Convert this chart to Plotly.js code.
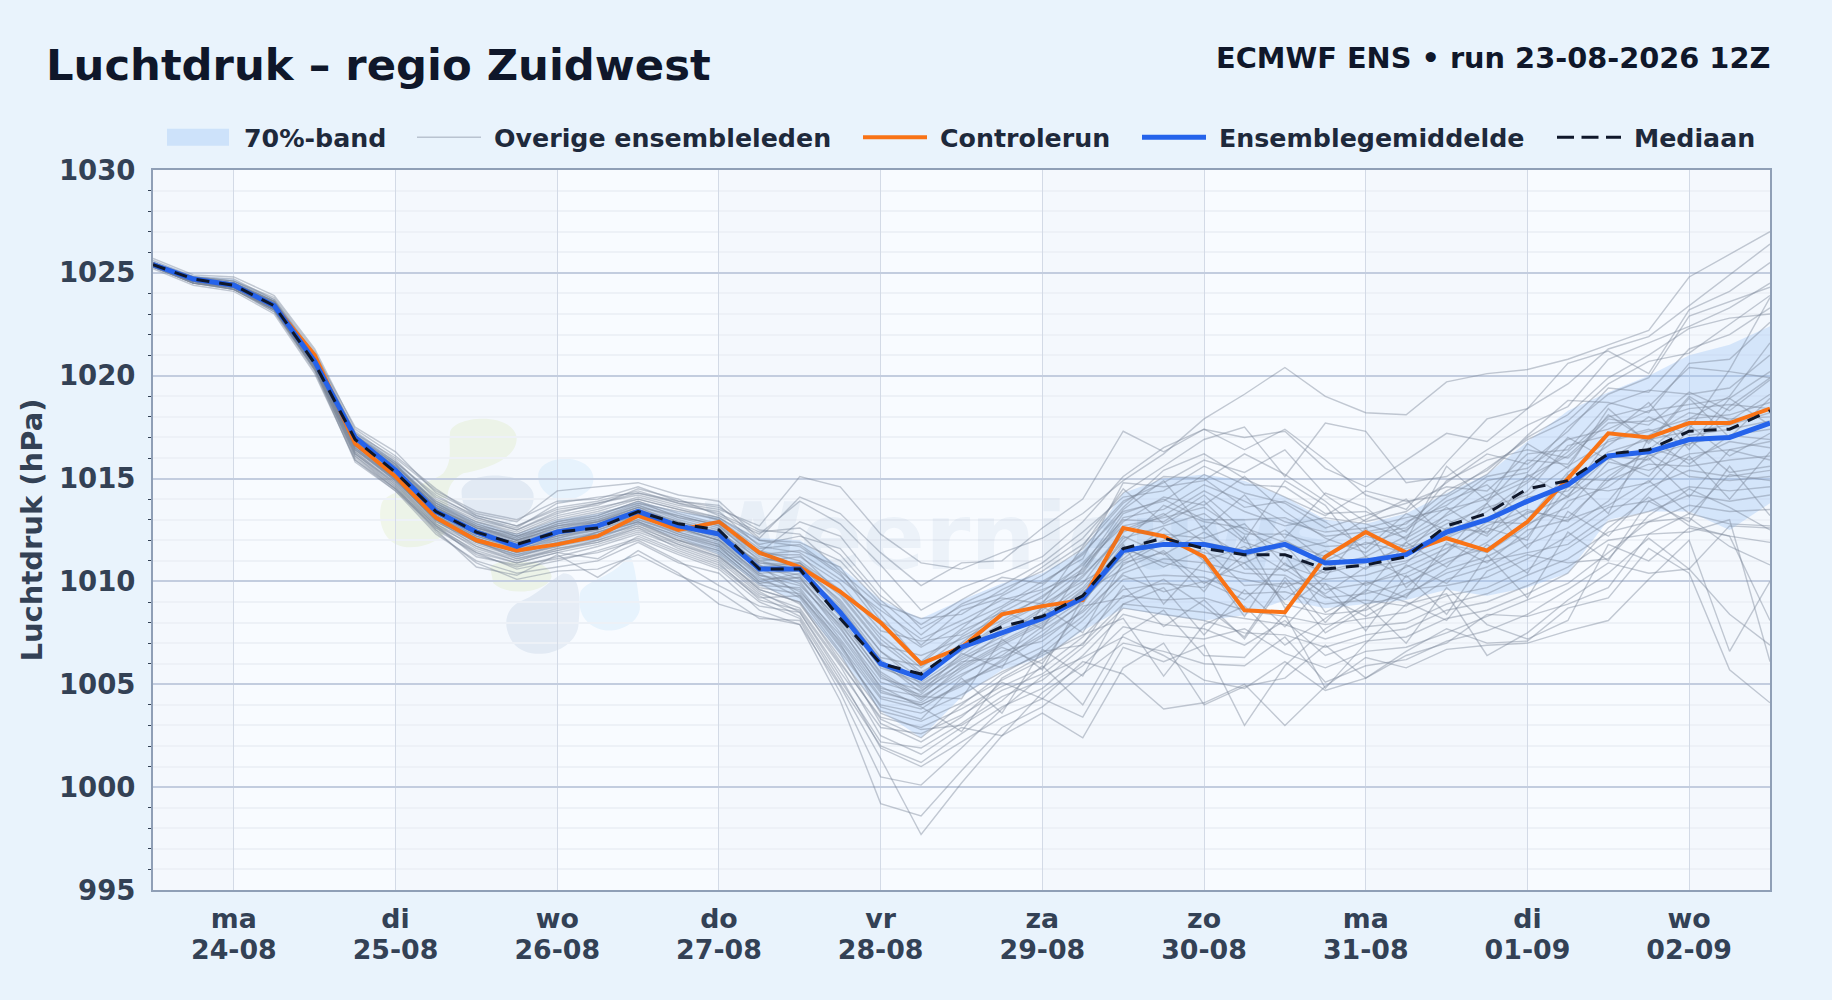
<!DOCTYPE html>
<html><head><meta charset="utf-8">
<script src="https://cdn.plot.ly/plotly-3.0.1.min.js"></script>
<style>html,body{margin:0;padding:0;background:#e9f3fc}</style></head>
<body><div id="chart" style="width:1832px;height:1000px"></div>
<script>
const times = ["2026-08-23 12:00","2026-08-23 18:00","2026-08-24 00:00","2026-08-24 06:00","2026-08-24 12:00","2026-08-24 18:00","2026-08-25 00:00","2026-08-25 06:00","2026-08-25 12:00","2026-08-25 18:00","2026-08-26 00:00","2026-08-26 06:00","2026-08-26 12:00","2026-08-26 18:00","2026-08-27 00:00","2026-08-27 06:00","2026-08-27 12:00","2026-08-27 18:00","2026-08-28 00:00","2026-08-28 06:00","2026-08-28 12:00","2026-08-28 18:00","2026-08-29 00:00","2026-08-29 06:00","2026-08-29 12:00","2026-08-29 18:00","2026-08-30 00:00","2026-08-30 06:00","2026-08-30 12:00","2026-08-30 18:00","2026-08-31 00:00","2026-08-31 06:00","2026-08-31 12:00","2026-08-31 18:00","2026-09-01 00:00","2026-09-01 06:00","2026-09-01 12:00","2026-09-01 18:00","2026-09-02 00:00","2026-09-02 06:00","2026-09-02 12:00"];
const dayTicks = ["2026-08-24","2026-08-25","2026-08-26","2026-08-27","2026-08-28","2026-08-29","2026-08-30","2026-08-31","2026-09-01","2026-09-02"];
const dayLabels = ["ma<br>24-08","di<br>25-08","wo<br>26-08","do<br>27-08","vr<br>28-08","za<br>29-08","zo<br>30-08","ma<br>31-08","di<br>01-09","wo<br>02-09"];
const shadedDays = [["2026-08-23 12:00","2026-08-24"],["2026-08-25","2026-08-26"],["2026-08-27","2026-08-28"],["2026-08-29","2026-08-30"],["2026-08-31","2026-09-01"],["2026-09-02","2026-09-02 12:00"]];
const mean = [1025.4,1024.7,1024.4,1023.4,1020.7,1017.0,1015.4,1013.4,1012.4,1011.7,1012.4,1012.7,1013.4,1012.7,1012.3,1010.6,1010.6,1008.5,1006.0,1005.3,1006.8,1007.5,1008.2,1009.2,1011.5,1011.8,1011.8,1011.4,1011.8,1010.9,1011.0,1011.3,1012.4,1013.0,1013.9,1014.7,1016.1,1016.3,1016.9,1017.0,1017.7];
const control = [1025.4,1024.7,1024.4,1023.4,1021.0,1016.7,1015.1,1013.1,1012.0,1011.5,1011.8,1012.2,1013.2,1012.5,1012.9,1011.4,1010.7,1009.5,1008.0,1006.0,1006.8,1008.4,1008.8,1009.1,1012.6,1012.2,1011.2,1008.6,1008.5,1011.2,1012.4,1011.4,1012.1,1011.5,1012.9,1015.0,1017.2,1017.0,1017.7,1017.7,1018.4];
const median = [1025.4,1024.7,1024.4,1023.4,1020.6,1016.9,1015.3,1013.4,1012.4,1011.8,1012.4,1012.6,1013.4,1012.8,1012.5,1010.6,1010.6,1008.2,1006.0,1005.5,1006.9,1007.8,1008.3,1009.3,1011.6,1012.1,1011.6,1011.3,1011.3,1010.6,1010.8,1011.2,1012.7,1013.3,1014.5,1014.9,1016.2,1016.4,1017.3,1017.4,1018.3];
const bandUpper = [1025.6,1024.9,1024.7,1023.7,1021.1,1017.3,1015.8,1013.9,1012.9,1012.3,1013.0,1013.3,1013.9,1013.4,1013.1,1012.1,1012.0,1010.7,1009.1,1008.2,1009.1,1009.9,1010.4,1011.5,1014.3,1015.0,1015.2,1014.9,1014.1,1013.0,1012.8,1013.3,1014.3,1015.2,1016.8,1018.3,1019.2,1020.0,1021.0,1021.5,1022.4];
const bandLower = [1025.2,1024.5,1024.2,1023.1,1020.3,1016.4,1014.8,1012.9,1011.9,1011.2,1011.7,1012.0,1012.8,1012.1,1011.3,1009.8,1009.0,1006.4,1003.7,1002.4,1004.4,1005.7,1006.3,1007.6,1008.7,1008.35,1008.1,1008.35,1009.1,1008.7,1008.9,1009.1,1009.6,1009.3,1009.7,1010.4,1013.0,1013.4,1013.4,1012.5,1013.8];
const members = [
[1025.5,1024.7,1024.5,1023.6,1020.9,1017.3,1015.9,1014.0,1013.1,1012.6,1013.8,1014.1,1014.3,1013.8,1013.5,1012.7,1015.1,1014.6,1012.3,1010.9,1010.6,1011.4,1012.1,1013.3,1014.9,1016.2,1017.9,1019.1,1020.4,1019.0,1018.2,1018.1,1019.7,1020.1,1020.3,1020.8,1021.5,1022.2,1024.8,1025.9,1027.0],
[1025.4,1024.8,1024.6,1023.7,1021.1,1017.5,1016.3,1014.3,1013.3,1012.9,1014.4,1014.6,1014.8,1014.2,1013.9,1012.1,1014.1,1013.3,1011.4,1009.8,1010.9,1011.0,1012.6,1014.0,1017.3,1016.3,1017.4,1017.0,1017.3,1015.5,1014.6,1015.9,1017.2,1016.8,1018.4,1019.6,1021.3,1021.9,1023.4,1024.9,1026.4],
[1025.5,1024.7,1024.4,1023.5,1020.7,1017.1,1015.8,1014.2,1013.1,1012.5,1013.4,1013.7,1014.5,1014.0,1013.2,1012.3,1013.9,1012.8,1010.8,1008.6,1009.7,1010.4,1011.2,1012.9,1015.1,1016.5,1017.4,1016.4,1017.4,1015.9,1014.2,1013.5,1015.8,1017.9,1018.4,1020.6,1021.2,1020.1,1023.2,1024.1,1025.5],
[1025.3,1024.6,1024.3,1023.3,1020.5,1016.9,1015.5,1013.7,1012.8,1012.2,1012.9,1013.3,1013.8,1013.4,1013.0,1011.4,1012.9,1012.2,1009.7,1007.7,1008.8,1009.4,1010.7,1012.1,1014.3,1015.6,1016.9,1017.5,1015.1,1017.7,1017.3,1014.8,1015.1,1016.4,1017.6,1018.5,1020.8,1021.6,1022.4,1023.3,1024.5],
[1025.4,1024.6,1024.4,1023.4,1020.8,1017.0,1015.6,1013.9,1012.9,1012.3,1013.1,1013.5,1014.1,1013.6,1013.1,1011.8,1012.2,1011.6,1009.3,1007.9,1009.1,1010.2,1009.9,1011.3,1013.6,1015.4,1016.2,1015.0,1014.1,1013.2,1014.4,1013.9,1014.2,1015.5,1016.9,1017.8,1019.6,1020.7,1021.1,1022.5,1023.9],
[1025.5,1024.8,1024.6,1023.8,1021.2,1017.2,1016.0,1014.4,1013.4,1013.0,1013.9,1014.0,1014.6,1013.9,1013.7,1012.0,1011.9,1011.0,1008.9,1008.2,1008.4,1009.6,1010.5,1011.8,1013.9,1014.8,1015.9,1015.3,1016.4,1014.2,1012.9,1013.4,1014.8,1016.2,1015.7,1017.3,1019.4,1019.2,1021.3,1022.0,1023.3],
[1025.4,1024.7,1024.5,1023.5,1020.9,1016.8,1015.4,1013.6,1012.6,1012.1,1012.8,1013.2,1013.9,1013.1,1012.8,1011.3,1011.5,1010.7,1008.1,1006.8,1007.9,1008.8,1010.0,1011.1,1014.8,1014.6,1014.9,1016.2,1015.2,1013.9,1012.3,1012.6,1014.1,1015.2,1017.1,1018.8,1018.7,1018.2,1020.6,1020.8,1022.6],
[1025.3,1024.6,1024.3,1023.4,1020.6,1016.7,1015.2,1013.5,1012.7,1012.0,1012.6,1012.9,1013.6,1013.2,1012.7,1011.0,1011.2,1009.9,1007.6,1007.1,1007.4,1008.7,1009.8,1011.4,1013.4,1013.9,1015.2,1014.3,1013.8,1012.6,1013.2,1013.8,1014.6,1014.4,1016.2,1016.4,1018.6,1019.3,1019.1,1019.4,1021.0],
[1025.4,1024.7,1024.4,1023.3,1020.7,1016.9,1015.3,1013.3,1012.3,1011.9,1012.5,1012.8,1013.5,1012.9,1012.4,1011.1,1010.9,1009.3,1006.9,1006.4,1007.2,1008.1,1009.3,1010.6,1012.9,1014.1,1013.7,1015.1,1013.4,1012.1,1011.4,1012.9,1013.7,1015.1,1015.5,1016.9,1017.4,1018.3,1018.6,1018.9,1020.2],
[1025.5,1024.6,1024.5,1023.6,1020.6,1016.6,1015.1,1013.2,1012.2,1011.6,1012.3,1012.6,1013.3,1012.7,1012.1,1010.9,1010.8,1008.9,1006.3,1005.9,1006.9,1007.4,1008.6,1010.2,1012.4,1013.2,1014.4,1013.4,1012.7,1013.1,1012.8,1012.1,1013.2,1014.2,1015.1,1016.1,1017.9,1017.6,1019.2,1018.3,1019.8],
[1025.3,1024.5,1024.2,1023.2,1020.4,1016.4,1014.9,1013.0,1012.0,1011.4,1012.0,1012.4,1013.0,1012.4,1011.9,1010.4,1010.5,1008.4,1005.8,1005.1,1006.4,1007.7,1008.3,1009.7,1011.9,1013.7,1012.9,1012.6,1011.9,1011.2,1012.2,1011.7,1012.8,1013.6,1014.2,1015.6,1016.8,1017.3,1017.9,1018.1,1018.7],
[1025.4,1024.6,1024.3,1023.3,1020.5,1016.5,1015.0,1012.9,1011.9,1011.3,1011.9,1012.3,1012.9,1012.2,1011.6,1010.1,1010.2,1008.0,1005.3,1004.7,1005.8,1006.9,1007.9,1009.4,1012.1,1012.7,1013.3,1011.9,1011.3,1010.4,1010.9,1011.3,1012.2,1013.1,1013.8,1014.7,1016.3,1016.9,1017.3,1017.6,1018.2],
[1025.5,1024.7,1024.4,1023.4,1020.7,1016.8,1015.3,1013.4,1012.5,1011.8,1012.2,1012.7,1013.2,1012.6,1012.0,1010.6,1009.9,1007.7,1005.1,1004.5,1006.1,1006.3,1007.4,1009.0,1011.3,1012.3,1012.1,1012.8,1010.8,1010.1,1010.3,1010.9,1012.6,1012.4,1013.3,1014.1,1015.4,1016.1,1016.7,1017.1,1017.4],
[1025.4,1024.6,1024.3,1023.2,1020.4,1016.3,1014.8,1012.8,1011.8,1011.2,1011.8,1012.2,1012.7,1012.0,1011.4,1009.8,1009.7,1007.2,1004.6,1004.1,1005.4,1006.6,1007.1,1008.6,1010.8,1011.9,1011.4,1010.9,1011.8,1009.6,1009.9,1010.4,1011.4,1012.9,1012.8,1013.6,1015.8,1015.4,1016.2,1016.4,1016.8],
[1025.3,1024.5,1024.2,1023.1,1020.3,1016.2,1014.7,1012.7,1011.7,1011.0,1011.6,1012.0,1012.6,1011.9,1011.2,1009.7,1009.4,1006.9,1004.3,1003.8,1005.1,1005.9,1006.8,1008.3,1010.4,1011.1,1010.9,1010.4,1010.3,1009.2,1009.4,1009.9,1010.9,1011.9,1013.4,1013.1,1014.9,1015.7,1015.6,1015.9,1016.1],
[1025.4,1024.7,1024.5,1023.5,1020.8,1017.0,1015.6,1013.8,1012.8,1012.2,1012.7,1013.0,1013.7,1013.0,1012.5,1010.8,1009.3,1007.1,1004.4,1004.0,1004.9,1006.2,1007.6,1008.9,1011.7,1010.7,1011.6,1009.8,1009.9,1009.9,1008.9,1009.3,1010.6,1011.2,1012.2,1014.6,1014.4,1014.8,1016.9,1015.3,1015.6],
[1025.5,1024.6,1024.4,1023.4,1020.6,1016.7,1015.1,1013.1,1012.1,1011.5,1012.1,1012.5,1013.1,1012.3,1011.8,1010.2,1009.2,1006.6,1004.0,1003.6,1004.5,1005.6,1006.5,1008.1,1010.1,1010.3,1010.2,1009.4,1009.5,1008.9,1009.1,1008.8,1010.1,1010.7,1011.8,1012.6,1013.9,1016.2,1015.1,1014.9,1015.1],
[1025.4,1024.6,1024.3,1023.3,1020.5,1016.4,1014.9,1012.9,1011.9,1011.3,1011.7,1012.1,1012.8,1012.1,1011.5,1009.9,1008.9,1006.3,1003.7,1003.2,1004.1,1005.2,1006.2,1007.7,1009.6,1009.9,1009.7,1011.3,1008.9,1008.4,1008.6,1009.6,1009.8,1010.2,1011.1,1012.2,1013.6,1013.9,1014.6,1014.4,1014.6],
[1025.3,1024.5,1024.3,1023.2,1020.3,1016.1,1014.6,1012.6,1011.5,1010.9,1011.4,1011.8,1012.4,1011.7,1011.0,1009.4,1008.7,1006.0,1003.4,1002.9,1003.8,1004.9,1005.8,1007.3,1009.3,1009.1,1009.2,1008.6,1008.3,1007.9,1008.2,1008.5,1009.3,1009.7,1010.6,1011.6,1012.9,1013.4,1014.2,1013.9,1014.2],
[1025.4,1024.6,1024.4,1023.3,1020.6,1016.6,1015.0,1013.0,1012.0,1011.1,1011.5,1011.9,1012.5,1011.8,1011.1,1009.5,1008.5,1005.6,1002.9,1002.6,1003.5,1004.7,1005.5,1007.0,1008.9,1008.7,1008.5,1008.2,1007.9,1007.2,1007.8,1008.0,1008.9,1009.4,1010.3,1011.1,1012.4,1012.9,1013.7,1013.4,1013.5],
[1025.3,1024.5,1024.2,1023.1,1020.2,1015.9,1014.4,1012.6,1011.3,1010.7,1011.2,1011.7,1012.3,1011.5,1010.8,1009.3,1008.3,1005.2,1002.2,1001.9,1003.1,1004.4,1005.2,1006.8,1008.7,1008.4,1008.1,1007.5,1007.4,1006.8,1007.4,1007.7,1008.6,1009.0,1009.8,1010.7,1012.0,1012.3,1013.3,1012.8,1012.7],
[1025.4,1024.6,1024.3,1023.2,1020.4,1016.0,1014.5,1012.7,1011.4,1010.6,1011.0,1011.5,1012.1,1011.3,1010.6,1009.0,1008.2,1005.0,1002.0,1001.2,1002.6,1003.9,1004.8,1006.4,1008.4,1007.9,1007.7,1006.9,1008.1,1006.4,1007.1,1007.3,1008.2,1008.6,1009.4,1010.4,1012.6,1014.1,1012.7,1012.2,1011.9],
[1025.3,1024.5,1024.2,1023.2,1020.3,1015.8,1014.4,1012.3,1011.0,1010.4,1010.7,1011.0,1011.9,1010.9,1010.4,1008.6,1007.9,1004.9,1001.4,997.7,1000.2,1002.5,1004.6,1005.9,1007.8,1007.4,1007.2,1007.7,1006.5,1005.8,1006.6,1006.8,1007.5,1008.3,1009.1,1009.9,1011.4,1012.9,1013.1,1011.7,1010.8],
[1025.4,1024.5,1024.3,1023.3,1020.5,1016.2,1014.6,1012.5,1010.7,1010.3,1011.3,1010.2,1011.5,1010.4,1008.9,1008.3,1007.9,1004.2,999.2,998.6,1000.8,1002.9,1003.9,1005.5,1007.0,1006.6,1006.0,1005.9,1007.3,1005.1,1005.9,1006.2,1007.1,1007.6,1008.4,1009.6,1010.9,1010.4,1010.6,1008.4,1006.9],
[1025.3,1024.6,1024.2,1023.2,1020.3,1016.1,1014.5,1012.4,1010.9,1010.1,1010.5,1010.6,1011.3,1010.3,1009.5,1008.2,1008.1,1004.6,1000.5,1000.1,1001.9,1003.8,1005.4,1006.3,1007.3,1006.4,1005.2,1004.8,1006.1,1004.7,1005.3,1006.6,1007.7,1007.0,1007.1,1008.7,1009.2,1011.6,1010.4,1005.7,1004.1],
[1025.4,1024.5,1024.3,1023.3,1020.4,1016.3,1014.7,1012.7,1011.2,1010.8,1011.1,1011.4,1012.0,1011.0,1009.8,1008.8,1008.5,1005.4,1001.9,1001.0,1002.2,1003.4,1004.3,1006.1,1005.5,1003.8,1004.1,1005.0,1003.0,1004.9,1006.3,1005.8,1006.7,1006.9,1007.0,1007.6,1008.1,1010.1,1012.0,1006.6,1010.0],
[1025.5,1024.6,1024.4,1023.4,1020.6,1016.5,1014.9,1013.0,1011.7,1011.1,1011.6,1011.9,1012.6,1011.6,1010.9,1009.1,1008.6,1005.9,1002.5,1001.6,1002.9,1002.5,1003.6,1002.4,1005.8,1007.0,1004.0,1004.9,1005.3,1006.9,1005.3,1006.4,1007.0,1008.4,1008.3,1008.9,1009.7,1012.3,1012.4,1013.0,1006.1],
[1025.4,1024.7,1024.4,1023.4,1020.7,1016.7,1015.2,1013.2,1012.1,1011.4,1011.9,1012.2,1012.8,1012.0,1011.3,1009.6,1009.0,1006.5,1003.1,1002.2,1003.4,1005.1,1004.3,1003.4,1006.8,1006.1,1006.9,1003.0,1005.9,1007.7,1008.9,1007.0,1009.7,1007.9,1007.2,1008.1,1011.8,1011.0,1012.6,1012.2,1008.1],
[1025.4,1024.6,1024.4,1023.4,1020.5,1016.6,1015.1,1013.3,1012.2,1011.6,1012.0,1012.3,1012.9,1012.2,1011.7,1010.0,1009.6,1007.0,1003.6,1002.8,1003.0,1004.2,1005.9,1004.0,1007.4,1008.6,1006.4,1006.3,1008.4,1004.8,1007.0,1008.9,1009.4,1006.4,1007.5,1009.1,1010.4,1012.1,1010.6,1012.7,1012.6],
[1025.5,1024.7,1024.5,1023.5,1020.8,1016.9,1015.4,1013.5,1012.4,1011.7,1012.2,1012.6,1013.2,1012.5,1012.0,1010.3,1010.0,1007.5,1004.9,1003.9,1002.7,1005.3,1006.4,1007.4,1008.2,1005.4,1007.9,1008.8,1006.9,1008.2,1009.6,1009.0,1008.1,1010.5,1011.3,1010.9,1011.1,1013.2,1014.5,1013.6,1012.5],
[1025.4,1024.7,1024.4,1023.5,1020.7,1016.8,1015.4,1013.6,1012.6,1012.0,1012.5,1012.9,1013.4,1012.8,1012.3,1010.7,1010.3,1008.3,1005.5,1004.3,1005.7,1006.8,1006.0,1008.8,1009.2,1010.1,1008.8,1007.3,1010.2,1008.0,1010.0,1009.2,1011.9,1010.9,1012.5,1013.0,1013.7,1014.9,1013.3,1015.2,1014.9],
[1025.3,1024.6,1024.4,1023.4,1020.6,1016.8,1015.5,1013.7,1012.7,1012.1,1012.7,1013.1,1013.7,1013.1,1012.6,1011.2,1010.7,1009.1,1006.6,1005.0,1006.2,1007.1,1008.1,1009.5,1010.6,1011.5,1009.9,1010.9,1009.1,1010.7,1011.2,1010.2,1011.1,1011.6,1012.9,1015.0,1014.9,1016.5,1015.9,1016.8,1016.5],
[1025.4,1024.7,1024.4,1023.5,1020.8,1016.9,1015.5,1013.6,1012.6,1012.2,1012.9,1013.2,1013.9,1013.3,1012.8,1011.5,1011.0,1009.6,1007.2,1005.6,1006.6,1007.9,1008.9,1010.0,1011.1,1012.6,1011.0,1011.7,1010.5,1011.5,1010.6,1011.9,1013.0,1012.2,1014.1,1014.4,1016.1,1015.9,1017.6,1016.1,1017.2],
[1025.5,1024.7,1024.5,1023.6,1020.9,1017.1,1015.7,1013.8,1012.9,1012.4,1013.2,1013.6,1014.0,1013.5,1013.1,1012.0,1011.7,1010.3,1008.4,1006.0,1007.6,1008.5,1009.5,1010.8,1012.7,1013.1,1013.6,1012.3,1012.3,1011.7,1011.8,1012.5,1013.9,1014.7,1013.0,1015.3,1016.6,1018.0,1017.1,1017.4,1017.8],
[1025.4,1024.8,1024.5,1023.6,1021.0,1017.1,1015.7,1013.9,1013.0,1012.5,1013.3,1013.8,1014.2,1013.7,1013.4,1011.7,1011.4,1010.1,1008.6,1007.2,1008.1,1009.1,1009.6,1010.4,1013.1,1013.5,1014.7,1013.9,1012.9,1012.4,1012.6,1013.1,1013.5,1014.0,1014.9,1017.0,1015.9,1017.1,1018.2,1017.9,1018.0],
[1025.5,1024.7,1024.5,1023.6,1020.9,1017.2,1015.8,1014.1,1013.2,1012.7,1013.6,1013.9,1014.4,1013.8,1013.3,1012.4,1012.6,1011.3,1009.1,1007.4,1008.9,1009.8,1010.9,1012.4,1014.1,1014.4,1015.6,1014.7,1014.6,1013.3,1013.4,1012.4,1014.9,1015.9,1016.4,1016.0,1017.7,1017.8,1018.4,1018.6,1018.4],
[1025.4,1024.7,1024.4,1023.5,1020.8,1017.0,1015.6,1013.8,1012.7,1012.3,1013.0,1013.4,1014.0,1013.5,1013.0,1011.6,1011.8,1010.4,1007.9,1006.1,1007.7,1009.3,1010.3,1011.6,1013.8,1015.1,1015.0,1013.6,1013.9,1012.9,1011.6,1013.3,1012.5,1013.8,1015.9,1015.7,1018.1,1016.8,1019.0,1017.8,1019.1],
[1025.3,1024.6,1024.4,1023.4,1020.6,1016.7,1015.2,1013.4,1012.4,1011.9,1012.4,1012.7,1013.3,1012.6,1012.2,1010.5,1010.9,1009.5,1007.4,1005.8,1007.3,1008.3,1009.2,1010.9,1013.0,1012.9,1014.2,1012.5,1011.5,1011.9,1013.0,1014.0,1012.1,1013.0,1014.4,1016.6,1017.1,1018.7,1016.4,1018.5,1019.9],
[1025.4,1024.6,1024.3,1023.3,1020.5,1016.5,1015.0,1013.1,1012.1,1011.4,1011.8,1012.4,1013.0,1012.3,1011.7,1010.0,1010.4,1008.7,1006.2,1004.8,1006.0,1007.5,1008.7,1010.3,1012.2,1011.3,1012.4,1011.2,1012.0,1010.9,1009.8,1010.7,1011.6,1012.7,1013.5,1012.9,1015.1,1016.4,1017.9,1019.0,1021.6],
[1025.4,1024.7,1024.5,1023.5,1020.7,1016.9,1015.4,1013.5,1012.5,1012.0,1012.6,1013.0,1013.6,1012.9,1012.4,1010.8,1010.1,1008.1,1005.6,1004.4,1005.5,1006.4,1007.8,1009.1,1011.0,1012.0,1012.7,1010.6,1010.6,1009.4,1010.7,1011.0,1011.8,1011.4,1012.7,1014.2,1016.0,1015.1,1017.4,1020.3,1023.8],
[1025.5,1024.6,1024.4,1023.4,1020.6,1016.6,1015.1,1013.2,1012.2,1011.7,1012.3,1012.8,1013.5,1012.7,1012.3,1010.9,1010.6,1008.6,1005.9,1004.9,1006.3,1007.3,1008.4,1009.9,1012.5,1013.3,1011.9,1011.5,1012.5,1011.0,1011.9,1011.4,1013.3,1014.9,1015.3,1017.5,1019.1,1019.9,1022.9,1023.6,1024.3],
[1025.4,1024.7,1024.4,1023.5,1020.7,1016.8,1015.3,1013.4,1012.3,1011.8,1012.4,1012.9,1013.6,1012.8,1012.2,1010.7,1010.9,1009.0,1006.6,1005.3,1006.7,1008.0,1009.0,1010.5,1013.3,1014.0,1013.0,1013.0,1013.1,1012.2,1012.4,1012.8,1014.4,1015.4,1017.0,1018.1,1019.9,1021.0,1022.3,1022.8,1023.0],
[1025.3,1024.6,1024.3,1023.3,1020.5,1016.6,1015.0,1013.1,1012.1,1011.5,1012.2,1012.5,1013.2,1012.4,1011.8,1010.3,1009.8,1007.9,1005.4,1004.2,1005.9,1007.0,1008.0,1009.6,1011.6,1010.9,1010.5,1010.1,1009.7,1010.5,1011.0,1011.6,1012.3,1013.4,1014.8,1016.3,1018.0,1018.5,1020.4,1020.2,1019.9],
[1025.4,1024.6,1024.4,1023.4,1020.6,1016.7,1015.2,1013.3,1012.3,1011.7,1012.1,1012.6,1013.3,1012.6,1012.0,1010.4,1009.5,1007.4,1004.7,1004.0,1005.0,1006.1,1007.3,1008.5,1010.3,1009.5,1010.0,1009.1,1010.9,1009.3,1008.3,1009.4,1010.4,1011.0,1011.4,1011.8,1013.2,1014.6,1015.4,1015.1,1015.4],
[1025.7,1024.9,1024.8,1023.9,1021.3,1017.4,1016.1,1014.5,1013.2,1012.7,1013.5,1013.8,1014.3,1013.9,1013.6,1012.5,1012.3,1010.5,1008.8,1006.9,1008.6,1009.2,1008.9,1011.7,1014.5,1012.8,1013.9,1012.0,1014.9,1013.7,1011.2,1012.2,1013.6,1012.3,1015.2,1014.1,1016.9,1017.4,1016.6,1018.9,1017.6],
[1025.2,1024.4,1024.1,1023.0,1020.1,1015.9,1014.5,1012.5,1011.4,1010.9,1011.4,1011.1,1012.2,1011.4,1010.7,1009.2,1009.3,1006.8,1003.9,1003.3,1005.3,1003.6,1006.7,1005.4,1008.9,1009.7,1007.4,1009.6,1007.8,1009.9,1007.6,1010.3,1008.4,1011.3,1009.2,1012.4,1011.0,1013.9,1012.9,1015.6,1013.2],
[1025.6,1024.8,1024.7,1023.7,1021.0,1017.0,1015.7,1013.6,1012.5,1011.9,1012.7,1012.9,1013.5,1012.6,1012.0,1011.0,1010.5,1008.8,1006.1,1004.6,1006.5,1005.8,1008.8,1007.5,1010.9,1011.4,1009.5,1012.2,1008.7,1010.2,1012.6,1009.7,1011.4,1013.8,1011.6,1013.9,1014.6,1016.0,1014.1,1016.4,1015.9],
[1025.3,1024.5,1024.4,1023.3,1020.5,1016.4,1015.0,1013.0,1011.9,1011.2,1011.7,1012.4,1012.9,1012.0,1011.5,1009.9,1010.2,1007.8,1004.8,1004.4,1004.3,1007.2,1005.7,1009.2,1011.8,1008.9,1011.0,1008.3,1011.3,1008.5,1009.5,1011.9,1010.7,1012.6,1012.0,1015.2,1013.3,1017.0,1015.7,1017.1,1016.9],
[1025.5,1024.8,1024.6,1023.6,1020.9,1016.9,1015.4,1013.7,1012.6,1012.0,1012.8,1013.1,1013.8,1013.2,1012.7,1011.3,1011.3,1009.4,1007.0,1005.5,1007.0,1008.6,1007.7,1010.7,1013.5,1014.9,1012.5,1014.2,1012.1,1014.3,1013.6,1012.0,1015.6,1013.9,1016.7,1015.5,1018.4,1016.7,1018.9,1017.0,1018.9],
[1025.4,1024.6,1024.2,1023.2,1020.4,1016.2,1014.8,1012.8,1011.6,1011.0,1011.5,1012.0,1012.7,1011.8,1011.2,1009.6,1009.0,1006.1,1003.3,1002.4,1004.0,1005.5,1006.6,1006.9,1009.8,1007.8,1009.1,1007.2,1010.0,1007.5,1008.7,1010.8,1009.9,1011.8,1010.4,1013.4,1012.2,1014.3,1016.1,1014.0,1016.3]
];

const logoSvg = `<svg xmlns="http://www.w3.org/2000/svg" viewBox="153 170 1617 720" preserveAspectRatio="none"><g transform="translate(350,380) scale(0.3333)">
<g fill="#f0f6ea"><path d="M300,160 C300,110 480,90 500,170 C505,240 400,270 340,280 C300,300 280,340 300,400 C310,470 230,510 160,500 C100,490 80,420 95,370 C110,330 230,320 280,280 C310,240 295,200 300,160Z"/><path d="M420,560 C480,520 600,540 605,590 C590,640 470,650 430,610Z"/></g>
<g fill="#e6edf6"><path d="M335,330 C350,270 530,270 550,340 C560,400 500,420 450,440 C390,440 330,400 335,330Z"/><path d="M640,580 C700,580 690,680 685,740 C670,820 540,850 490,790 C450,730 470,680 520,660 C570,640 600,600 640,580Z"/></g>
<g fill="#e7f3fd"><path d="M565,280 C580,220 720,220 730,290 C735,340 680,350 640,370 C600,350 560,330 565,280Z"/><path d="M690,640 C700,600 800,590 830,530 C850,510 860,600 870,680 C870,730 800,760 760,750 C710,740 680,700 690,640Z"/></g>
</g></svg>`;

const FONT = '"DejaVu Sans", sans-serif';
const traces = [];
traces.push({x:times,y:bandUpper,mode:'lines',line:{width:0,color:'rgba(0,0,0,0)'},showlegend:false,hoverinfo:'skip'});
traces.push({x:times,y:bandLower,mode:'lines',line:{width:0,color:'rgba(0,0,0,0)'},fill:'tonexty',fillcolor:'rgba(147,190,245,0.32)',name:'70%-band',legend:'legend',hoverinfo:'skip'});
members.forEach((m,i)=>traces.push({x:times,y:m,mode:'lines',line:{color:'rgba(122,134,152,0.44)',width:1.4},name:'Overige ensembleleden',legend:'legend2',showlegend:i===0,hoverinfo:'skip'}));
traces.push({x:times,y:control,mode:'lines',line:{color:'#f97316',width:4},name:'Controlerun',legend:'legend3',hoverinfo:'skip'});
traces.push({x:times,y:mean,mode:'lines',line:{color:'#2563eb',width:5},name:'Ensemblegemiddelde',legend:'legend4',hoverinfo:'skip'});
traces.push({x:times,y:median,mode:'lines',line:{color:'#0f172a',width:3,dash:'13px,10px'},name:'Mediaan',legend:'legend5',hoverinfo:'skip'});

const plotLeft = 153, plotWidth = 1617;
const legendAt = px => ({orientation:'h',x:(px-5-plotLeft)/plotWidth,xanchor:'left',y:1.0135,yanchor:'bottom',bgcolor:'rgba(0,0,0,0)',itemwidth:72,
  font:{size:25.3,color:'#1e293b',family:FONT,weight:'bold'}});

const layout = {
  width:1832,height:1000,autosize:false,
  paper_bgcolor:'#e9f3fc',plot_bgcolor:'#f8fbff',
  font:{family:FONT,color:'#334155'},
  margin:{l:plotLeft,r:62,t:170,b:110,pad:0},
  title:{text:'<b>Luchtdruk – regio Zuidwest</b>',x:46/1832,xref:'container',xanchor:'left',y:0.935,yanchor:'middle',yref:'container',font:{size:43.3,color:'#0f172a',family:FONT}},
  xaxis:{type:'date',range:[times[0],times[times.length-1]],tickmode:'array',tickvals:dayTicks,ticktext:dayLabels.map(s=>'<b>'+s.replace('<br>','</b><br><b>')+'</b>'),
    tickfont:{size:26.8,color:'#334155',family:FONT},showgrid:true,gridcolor:'#d3dae6',gridwidth:1,ticks:'',
    showline:true,linecolor:'#8f9fb6',linewidth:2,mirror:true,zeroline:false,ticklabelstandoff:4},
  yaxis:{range:[995,1030],tick0:995,dtick:5,tickfont:{size:27.5,color:'#334155',family:FONT,weight:'bold'},
    title:{text:'<b>Luchtdruk (hPa)</b>',font:{size:29,color:'#334155',family:FONT},standoff:8},
    showgrid:true,gridcolor:'#c3cddf',gridwidth:2,ticks:'outside',ticklen:0,tickwidth:0,
    minor:{dtick:1,showgrid:true,gridcolor:'#edf1f7',gridwidth:2,ticks:'outside',ticklen:3,tickwidth:1,tickcolor:'#334155'},
    showline:true,linecolor:'#8f9fb6',linewidth:2,mirror:true,zeroline:false,ticklabelstandoff:10},
  legend:legendAt(167),legend2:legendAt(417),legend3:legendAt(863),legend4:legendAt(1142),legend5:legendAt(1557),
  shapes:shadedDays.map(d=>({type:'rect',xref:'x',yref:'paper',x0:d[0],x1:d[1],y0:0,y1:1,fillcolor:'rgba(148,170,200,0.035)',line:{width:0},layer:'below'})),
  images:[{source:'data:image/svg+xml;utf8,'+encodeURIComponent(logoSvg),xref:'paper',yref:'paper',x:0,y:1,sizex:1,sizey:1,sizing:'stretch',xanchor:'left',yanchor:'top',layer:'below'}],
  annotations:[
    {text:'<b>ECMWF ENS • run 23-08-2026 12Z</b>',xref:'paper',yref:'paper',x:1.0015,xanchor:'right',y:1.155,yanchor:'middle',showarrow:false,font:{size:28.8,color:'#0f172a',family:FONT}},
    {text:'<b>Weernieuws</b>',xref:'paper',yref:'paper',x:0.338,xanchor:'left',y:0.49,yanchor:'middle',showarrow:false,font:{size:92,color:'rgba(40,90,140,0.055)',family:FONT}}
  ]
};
Plotly.newPlot('chart',traces,layout,{displayModeBar:false,staticPlot:true}).then(gd=>{
  // reference legend keys: taller band rectangle, shorter line keys with a wider gap to the text
  gd.querySelectorAll('.legendfill path').forEach(p=>p.setAttribute('d','M5,-8.5h62v17h-62z'));
  gd.querySelectorAll('.legendlines path').forEach(p=>{
    p.setAttribute('d','M5,0h64');
    if(p.style.strokeDasharray && p.style.strokeDasharray!=='none') p.style.strokeDasharray='17px,7.5px';
  });
  // tighter line pitch of the two-line day labels, as in the reference
  gd.querySelectorAll('.xtick text tspan.line').forEach((t,i)=>{
    if(t.getAttribute('dy') && parseFloat(t.getAttribute('dy'))>0) t.setAttribute('dy','1.14em');
  });
});
</script></body></html>
